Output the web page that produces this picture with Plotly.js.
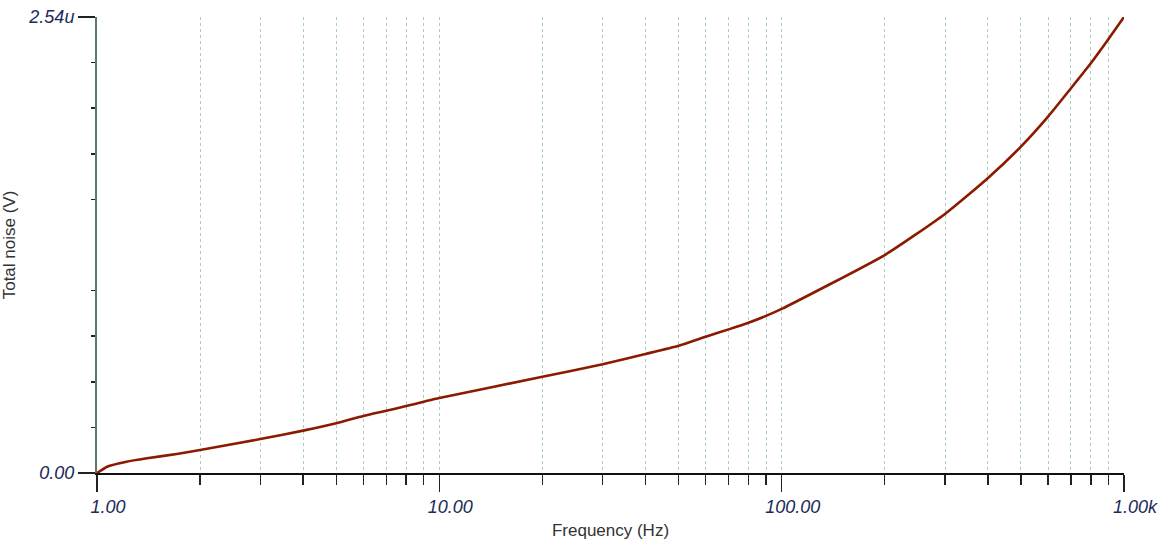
<!DOCTYPE html>
<html>
<head>
<meta charset="utf-8">
<script src="https://cdn.plot.ly/plotly-3.0.1.min.js"></script>
<style>
html,body{margin:0;padding:0;background:#fff;}
#chart{width:1165px;height:543px;}
</style>
</head>
<body>
<div id="chart"></div>
<script>
// Frequency (Hz)
var freq = [1, 1.07, 1.22, 1.4, 1.71, 2, 3, 4, 5, 6, 7, 8, 9, 10,
            20, 30, 40, 50, 60, 70, 80, 90, 100,
            200, 300, 400, 500, 600, 700, 800, 900, 1000];
// Total noise (microvolts)
var noiseUV = [0, 0.035, 0.063, 0.082, 0.106, 0.128, 0.189, 0.236, 0.277, 0.318, 0.347, 0.373, 0.397, 0.418,
               0.536, 0.606, 0.663, 0.709, 0.759, 0.800, 0.837, 0.875, 0.914,
               1.214, 1.443, 1.642, 1.818, 1.985, 2.143, 2.282, 2.416, 2.54];

var xTickVals = [1, 10, 100, 1000];
var xTickText = ["1.00", "10.00", "100.00", "1.00k"];
var xMinorVals = [2,3,4,5,6,7,8,9,20,30,40,50,60,70,80,90,200,300,400,500,600,700,800,900];
var yTickVals = [0, 2.54];
var yTickText = ["0.00", "2.54u"];
var yMinorVals = [0.254, 0.508, 0.762, 1.016, 1.524, 1.778, 2.032, 2.286];
var yMidVals = [1.27];

var fontFam = "Arial, 'Liberation Sans', sans-serif";
var labelColor = "#1c2b57";
var gridCol = "#a9cfc2";

var trace = {
  x: freq, y: noiseUV, type: 'scatter', mode: 'lines',
  line: {color: '#8b1a00', width: 2.6, shape: 'spline', smoothing: 0.5},
  hoverinfo: 'skip', showlegend: false
};

var layout = {
  width: 1165, height: 543,
  margin: {l: 97, r: 41, t: 17, b: 70},
  paper_bgcolor: '#fff', plot_bgcolor: '#fff',
  showlegend: false,
  xaxis: {
    type: 'log', range: [0, 3],
    tickmode: 'array', tickvals: xTickVals, ticktext: xTickText,
    ticks: 'outside', ticklen: 17, tickwidth: 1.5, tickcolor: '#222',
    tickfont: {family: fontFam, size: 18, color: labelColor, style: 'italic'},
    ticklabelshift: 11,
    showline: true, linecolor: '#111', linewidth: 1.5,
    showgrid: true, gridcolor: gridCol, griddash: '3px,3px', gridwidth: 1,
    zeroline: false,
    minor: {tickmode: 'array', tickvals: xMinorVals, ticks: 'outside', ticklen: 10, tickwidth: 1.5, tickcolor: '#222',
            showgrid: true, gridcolor: gridCol, griddash: '3px,3px', gridwidth: 1},
    title: {text: 'Frequency (Hz)', font: {family: fontFam, size: 17, color: '#333'}, standoff: 8}
  },
  xaxis2: {
    type: 'log', range: [0, 3], overlaying: 'x', side: 'top', anchor: 'y',
    showline: true, linecolor: '#b7d0d6', linewidth: 1.5,
    ticks: '', showticklabels: false, showgrid: false, zeroline: false
  },
  yaxis: {
    range: [0, 2.54],
    tickmode: 'array', tickvals: yTickVals, ticktext: yTickText,
    ticks: 'outside', ticklen: 17, tickwidth: 1.5, tickcolor: '#222',
    tickfont: {family: fontFam, size: 18, color: labelColor, style: 'italic'},
    showline: true, linecolor: '#5e7a62', linewidth: 2,
    showgrid: false, zeroline: false,
    minor: {tickmode: 'array', tickvals: yMinorVals, ticks: 'outside', ticklen: 4, tickwidth: 1.5, tickcolor: '#222', showgrid: false},
    title: {text: 'Total noise (V)', font: {family: fontFam, size: 17, color: '#333'}, standoff: 8}
  },
  yaxis2: {
    range: [0, 2.54], overlaying: 'y', side: 'left', anchor: 'x',
    tickmode: 'array', tickvals: yMidVals, ticks: 'outside', ticklen: 8, tickwidth: 1.5, tickcolor: '#222',
    showticklabels: false, showline: false, showgrid: false, zeroline: false
  },
  yaxis3: {
    range: [0, 2.54], overlaying: 'y', side: 'right', anchor: 'x',
    showline: true, linecolor: '#b7d0d6', linewidth: 1.5,
    ticks: '', showticklabels: false, showgrid: false, zeroline: false
  }
};

Plotly.newPlot('chart', [trace], layout, {staticPlot: true, displayModeBar: false});
</script>
</body>
</html>
